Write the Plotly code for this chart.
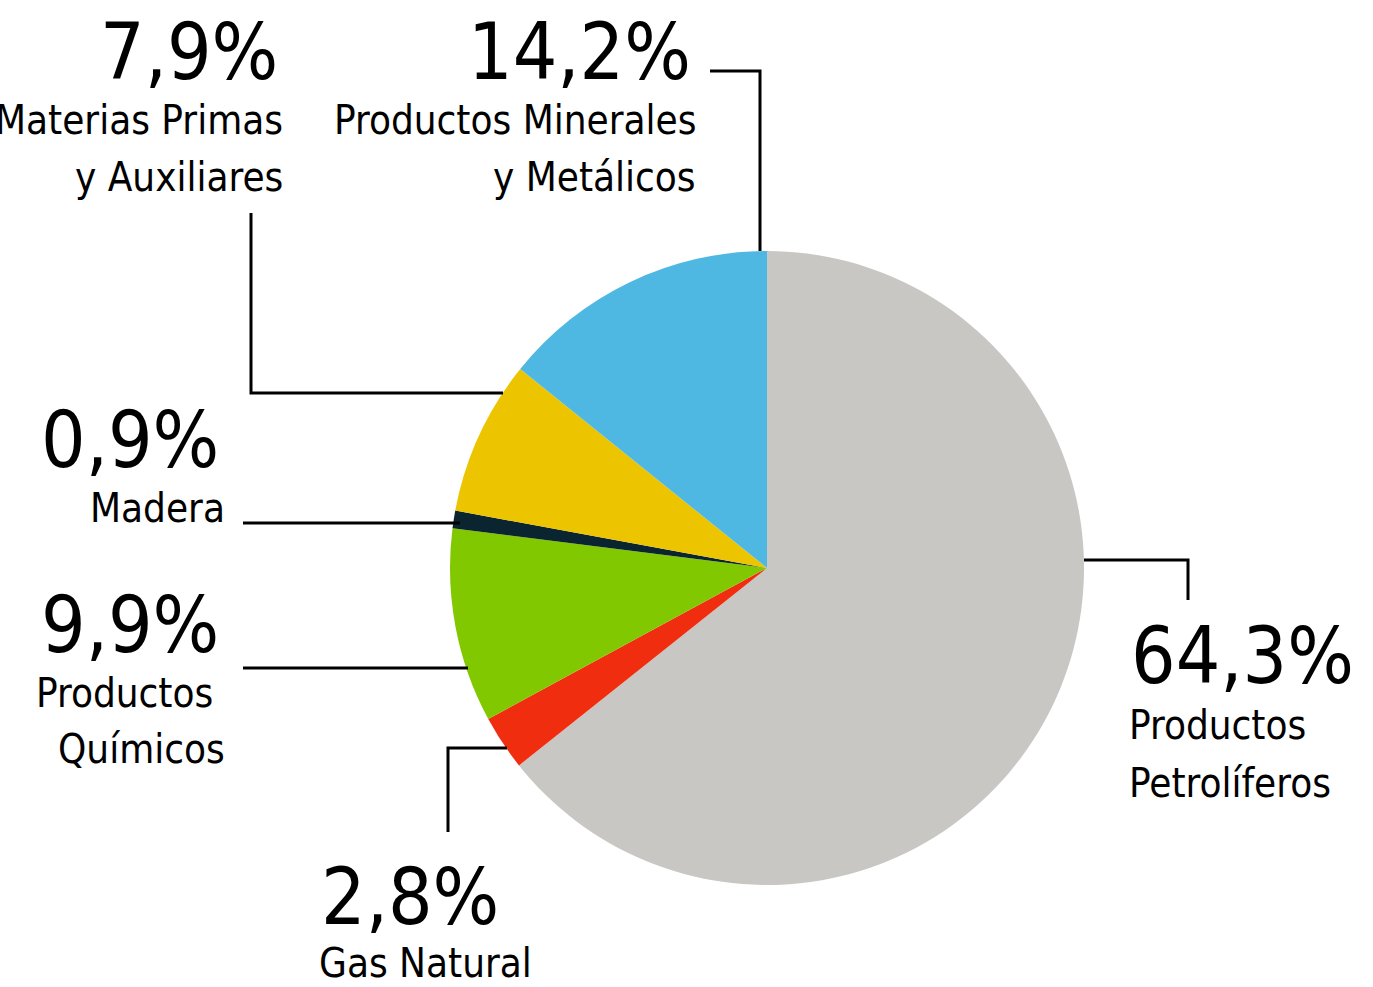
import plotly.graph_objects as go

# ---- data ----
categories = ["Productos Petrolíferos", "Gas Natural", "Productos Químicos", "Madera",
              "Materias Primas y Auxiliares", "Productos Minerales y Metálicos"]
values = [64.3, 2.8, 9.9, 0.9, 7.9, 14.2]
pct_labels = ["64,3%", "2,8%", "9,9%", "0,9%", "7,9%", "14,2%"]
name_lines = [["Productos", "Petrolíferos"], ["Gas Natural"], ["Productos", "Químicos"],
              ["Madera"], ["Materias Primas", "y Auxiliares"], ["Productos Minerales", "y Metálicos"]]
colors = ["#C8C7C3", "#F12D10", "#82C800", "#0A2530", "#ECC500", "#4FB8E2"]

W, H = 1373, 987
OX, OY = 0, 0  # page body margin removed via post_script
def px(x):
    return (x - OX) / W
def py(y):
    return 1 - (y - OY) / H

# pie geometry (pixels)
cx, cy, r = 767, 568, 317

fig = go.Figure(go.Pie(
    labels=categories, values=values, sort=False, direction="clockwise", rotation=0,
    marker=dict(colors=colors, line=dict(width=0)), textinfo="none", hoverinfo="label+percent",
    domain=dict(x=[px(cx - r), px(cx + r)], y=[py(cy + r), py(cy - r)]),
    showlegend=False,
))

PCT_FONT = "DejaVu Sans Condensed, sans-serif"
TXT_FONT = "DejaVu Sans Condensed, sans-serif"
PCT_SIZE = 78
TXT_SIZE = 40

# label layout: anchor, pct x, pct y, line xs, line ys
label_pos = [
    ("left", 1129, 656, [1127, 1127], [725, 783]),
    ("left", 319, 897, [317], [963]),
    ("right", 221, 625, [215, 227], [693, 749]),
    ("right", 221, 440, [227], [508]),
    ("right", 280, 52, [285, 285], [120, 177]),
    ("right", 693, 52, [698, 698], [120, 177]),
]

annotations = []
for i, (anchor, xp, yp, lxs, lys) in enumerate(label_pos):
    annotations.append(dict(x=px(xp), y=py(yp), xref="paper", yref="paper", text=pct_labels[i],
                            showarrow=False, xanchor=anchor, yanchor="middle",
                            font=dict(family=PCT_FONT, size=PCT_SIZE, color="#000000")))
    for ln, lx, ly in zip(name_lines[i], lxs, lys):
        annotations.append(dict(x=px(lx), y=py(ly), xref="paper", yref="paper", text=ln,
                                showarrow=False, xanchor=anchor, yanchor="middle",
                                font=dict(family=TXT_FONT, size=TXT_SIZE, color="#000000")))

# leader lines (pixel paths)
leaders = [
    [(1084, 560), (1188, 560), (1188, 600)],
    [(507, 748), (448, 748), (448, 832)],
    [(468, 668), (243, 668)],
    [(460, 523), (243, 523)],
    [(503, 393), (251, 393), (251, 213)],
    [(760, 251), (760, 71), (710, 71)],
]
shapes = []
for pts in leaders:
    path = "M " + " L ".join(f"{px(a)},{py(b)}" for a, b in pts)
    shapes.append(dict(type="path", xref="paper", yref="paper", path=path,
                       line=dict(color="#000000", width=3)))

fig.update_layout(width=W, height=H, margin=dict(l=0, r=0, t=0, b=0),
                  paper_bgcolor="white", plot_bgcolor="white",
                  annotations=annotations, shapes=shapes)

fig.write_html("out.html", config={"displayModeBar": False},
               post_script="document.body.style.margin='0px';")
